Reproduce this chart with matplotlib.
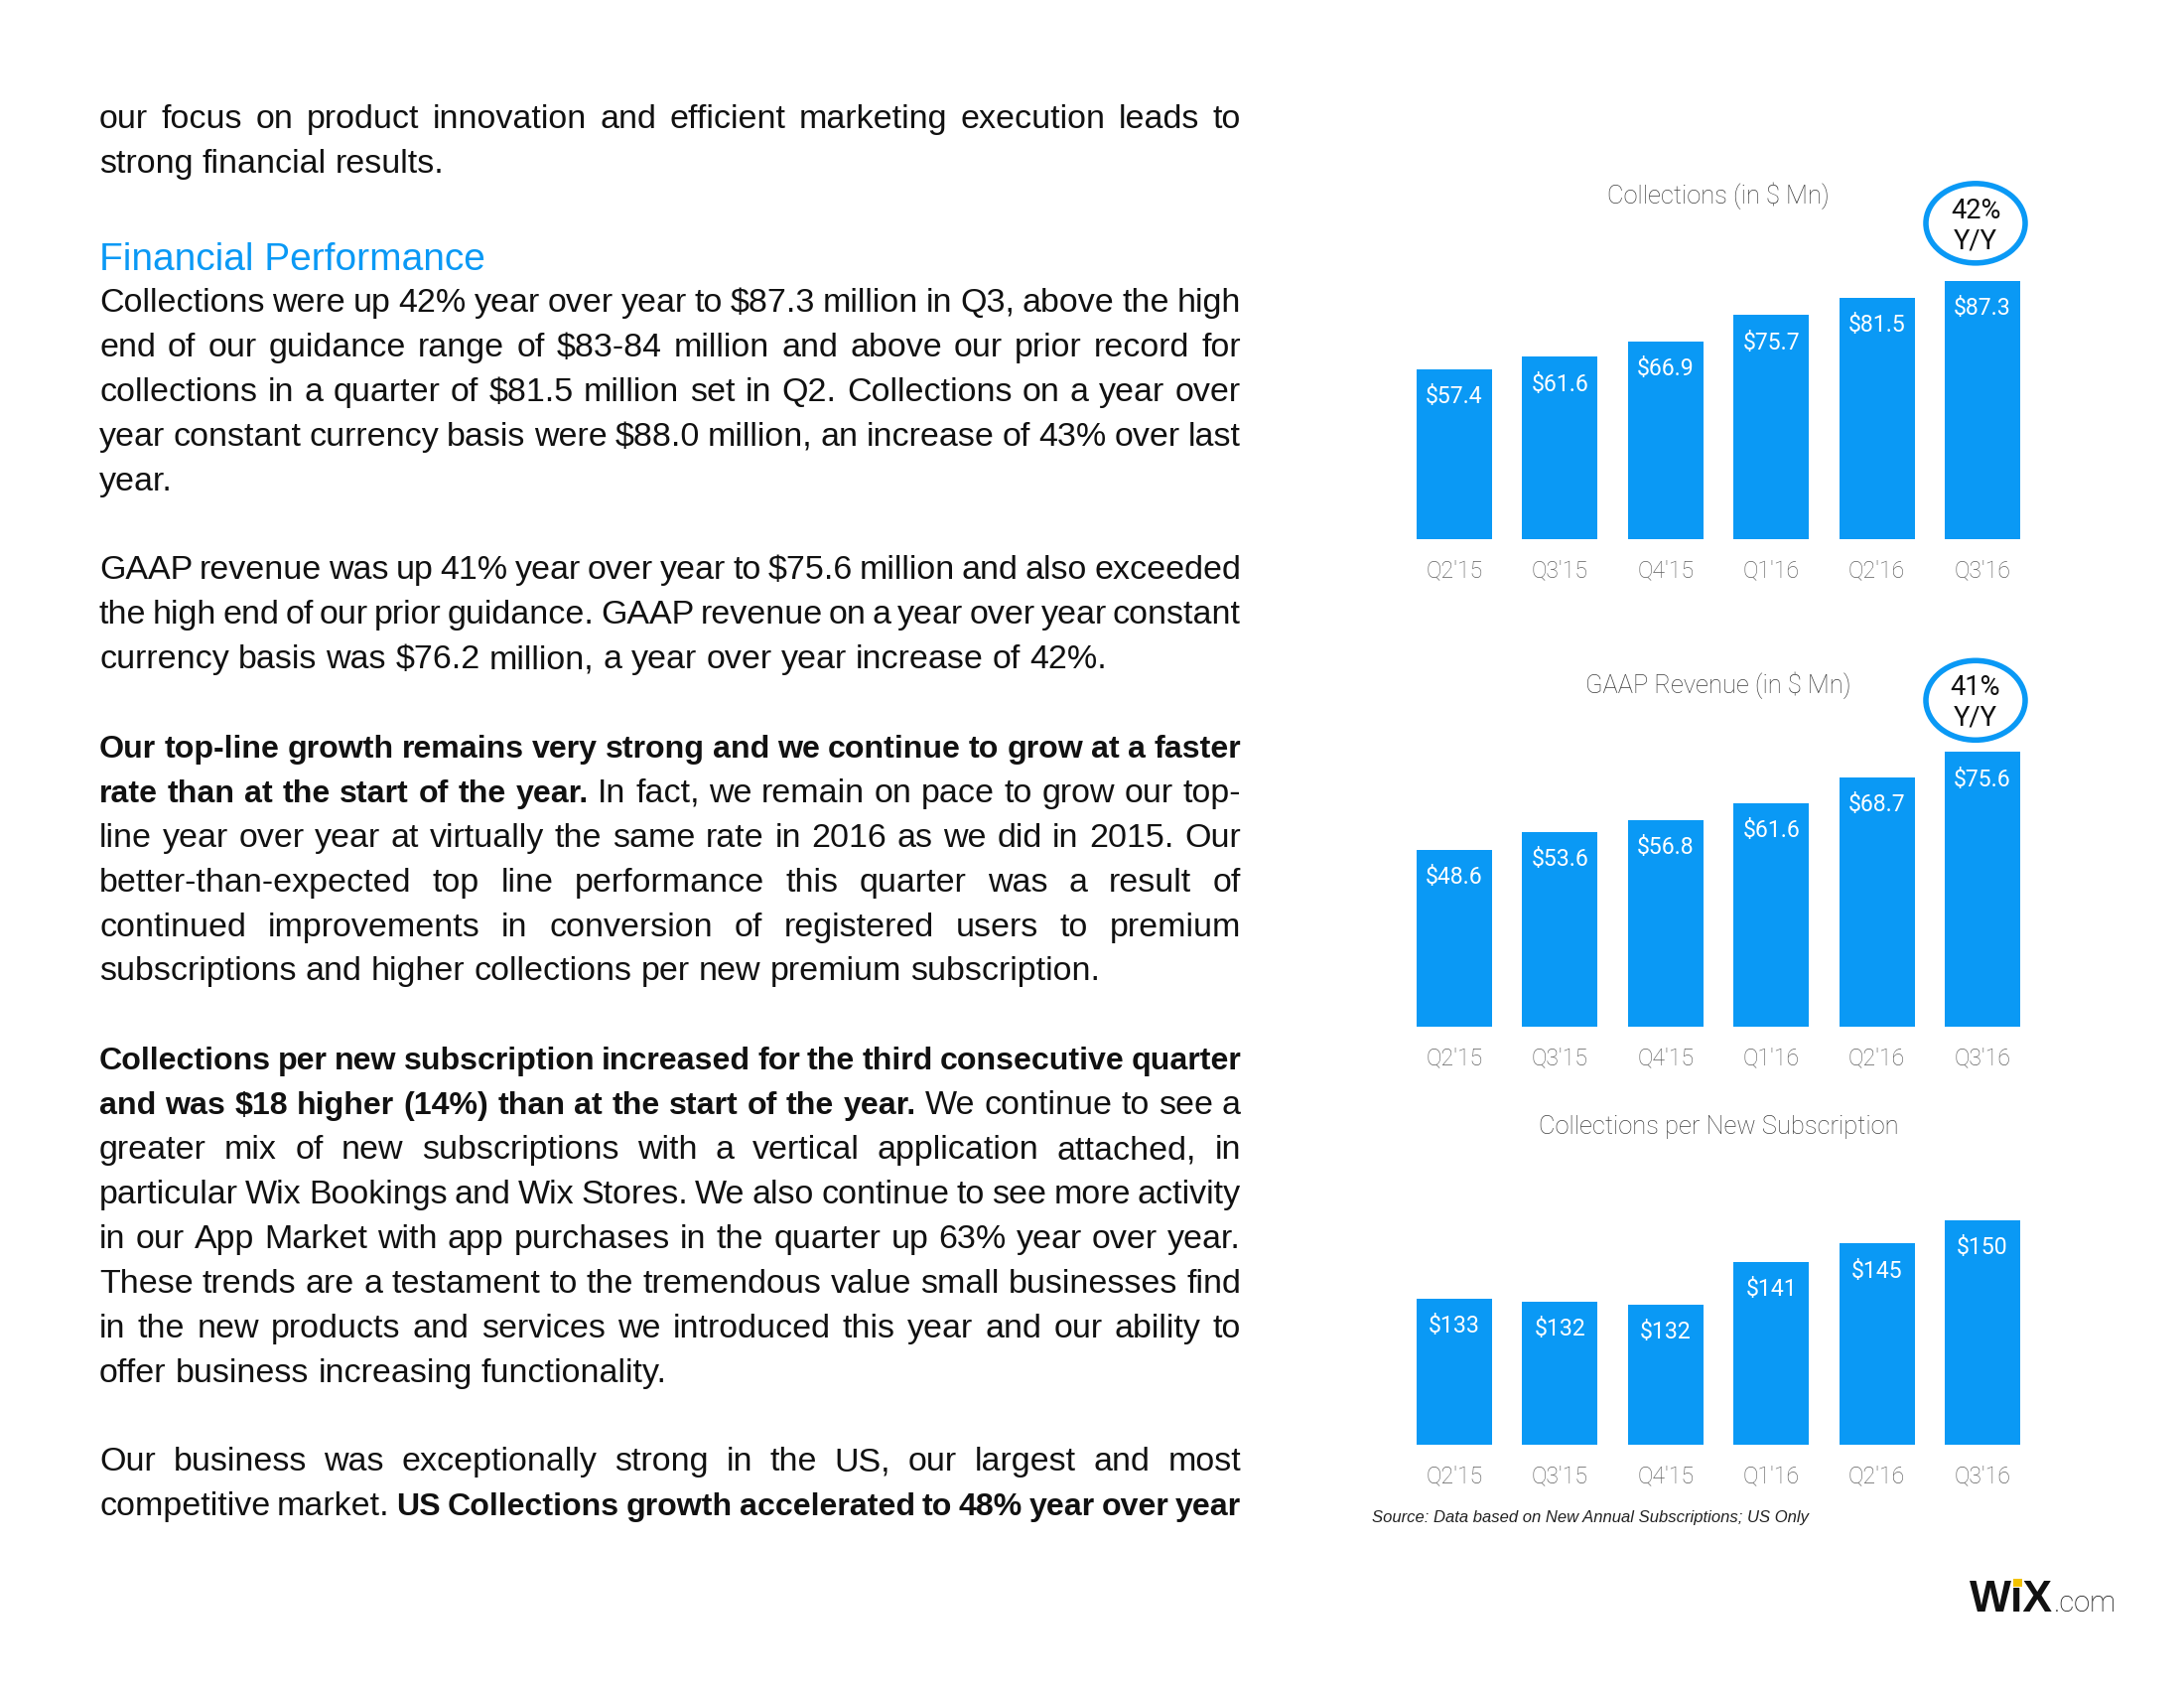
import re
import matplotlib
matplotlib.use("Agg")
import matplotlib.pyplot as plt
from matplotlib.patches import Ellipse, Rectangle

# page size in pixels
W, H, DPI = 2200, 1700, 200
BLUE = '#0A99F5'
GRAY = '#5e5e5e'
BODY_FONT = 'Liberation Sans'
CHART_FONT = 'Roboto'

# chart data
quarters = ["Q2'15", "Q3'15", "Q4'15", "Q1'16", "Q2'16", "Q3'16"]
collections = [57.4, 61.6, 66.9, 75.7, 81.5, 87.3]
gaap_revenue = [48.6, 53.6, 56.8, 61.6, 68.7, 75.6]
per_subscription = [133, 132.4, 131.8, 141, 145, 150]
collections_yoy = '42%'
revenue_yoy = '41%'

# body text, one entry per printed line; **...** marks bold runs
intro = [
    "our focus on product innovation and efficient marketing execution leads to",
    "strong financial results.",
]
heading = "Financial Performance"
paragraphs = [
    [
        "Collections were up 42% year over year to $87.3 million in Q3, above the high",
        "end of our guidance range of $83-84 million and above our prior record for",
        "collections in a quarter of $81.5 million set in Q2. Collections on a year over",
        "year constant currency basis were $88.0 million, an increase of 43% over last",
        "year.",
    ],
    [
        "GAAP revenue was up 41% year over year to $75.6 million and also exceeded",
        "the high end of our prior guidance. GAAP revenue on a year over year constant",
        "currency basis was $76.2 million, a year over year increase of 42%.",
    ],
    [
        "**Our top-line growth remains very strong and we continue to grow at a faster**",
        "**rate than at the start of the year.** In fact, we remain on pace to grow our top-",
        "line year over year at virtually the same rate in 2016 as we did in 2015. Our",
        "better-than-expected top line performance this quarter was a result of",
        "continued improvements in conversion of registered users to premium",
        "subscriptions and higher collections per new premium subscription.",
    ],
    [
        "**Collections per new subscription increased for the third consecutive quarter**",
        "**and was $18 higher (14%) than at the start of the year.** We continue to see a",
        "greater mix of new subscriptions with a vertical application attached, in",
        "particular Wix Bookings and Wix Stores. We also continue to see more activity",
        "in our App Market with app purchases in the quarter up 63% year over year.",
        "These trends are a testament to the tremendous value small businesses find",
        "in the new products and services we introduced this year and our ability to",
        "offer business increasing functionality.",
    ],
    [
        "Our business was exceptionally strong in the US, our largest and most",
        "competitive market. **US Collections growth accelerated to 48% year over year**",
    ],
]

fig = plt.figure(figsize=(W / DPI, H / DPI), dpi=DPI, facecolor='white')
renderer = fig.canvas.get_renderer()


def fx(x):
    return x / W


def fy(y):
    return 1 - y / H


def parse(line):
    words, bold = [], False
    for part in re.split(r'(\*\*)', line):
        if part == '**':
            bold = not bold
            continue
        words += [(w, bold) for w in part.split()]
    return words


def word_width(word, bold, size, family=BODY_FONT):
    t = fig.text(0, 0, word, fontsize=size, family=family,
                 fontweight='bold' if bold else 'normal')
    w = t.get_window_extent(renderer).width
    t.remove()
    return w


# --- justified body text ---
TEXT_L, TEXT_R = 100, 1250
PITCH = 44.9
SPACE = 0.27  # natural word gap, in em
blocks = [(intro, False)] + [(p, False) for p in paragraphs[:-1]] + [(paragraphs[-1], True)]
all_lines = [(l, i < len(b) - 1 or last_just) for b, last_just in blocks for i, l in enumerate(b)]

# regular size: the last line of paragraph 3 is about 1007 px wide on the page
probe = parse(paragraphs[2][-1])
probe_w = sum(word_width(w, False, 10) for w, _ in probe) + SPACE * 10 * DPI / 72 * (len(probe) - 1)
size = 10 * 1007 / probe_w
em = size * DPI / 72

# bold size: as large as the regular one, but every justified line must still fit
bold_size = size
for line, just in all_lines:
    words = parse(line)
    if not just or not any(b for _, b in words):
        continue
    reg = sum(word_width(w, False, size) for w, b in words if not b)
    bld1 = sum(word_width(w, True, 1.0 * 10) for w, b in words if b) / 10
    room = TEXT_R - TEXT_L - reg - 0.2 * em * (len(words) - 1)
    bold_size = min(bold_size, room / bld1)


def draw_line(line, y, justify):
    words = parse(line)
    widths = [word_width(w, b, bold_size if b else size) for w, b in words]
    gap = (TEXT_R - TEXT_L - sum(widths)) / (len(words) - 1) if justify and len(words) > 1 else SPACE * em
    x = TEXT_L
    for (w, b), wd in zip(words, widths):
        fig.text(fx(x), fy(y), w, fontsize=bold_size if b else size, family=BODY_FONT,
                 color='#111111', fontweight='bold' if b else 'normal', va='baseline', ha='left')
        x += wd + gap


y = 129
for i, line in enumerate(intro):
    draw_line(line, y, i < len(intro) - 1)
    y += PITCH

fig.text(fx(TEXT_L), fy(272), heading, fontsize=14, family=BODY_FONT, color=BLUE, va='baseline')

y = 314
for k, para in enumerate(paragraphs):
    last_just = k == len(paragraphs) - 1
    for i, line in enumerate(para):
        draw_line(line, y, i < len(para) - 1 or last_just)
        y += PITCH
    y += PITCH

# --- bar charts ---
AX_L, AX_W = 1411.8, 638.4


def panel(baseline, height, values, ylim, labels, title, title_y, tick_y_pad=7.3):
    ax = fig.add_axes([fx(AX_L), fy(baseline), AX_W / W, height / H])
    x = range(len(quarters))
    ax.bar(x, values, width=0.715, color=BLUE)
    ax.set_xlim(-0.5, len(quarters) - 0.5)
    ax.set_ylim(*ylim)
    ax.set_xticks(list(x), quarters, family=CHART_FONT, fontweight='light')
    ax.set_yticks([])
    ax.tick_params(axis='x', length=0, pad=tick_y_pad, labelsize=8.3, labelcolor=GRAY)
    for s in ax.spines.values():
        s.set_visible(False)
    ax.patch.set_alpha(0)
    for i, (v, lab) in enumerate(zip(values, labels)):
        ax.annotate(lab, (i, v), xytext=(0, -10), textcoords='offset points',
                    ha='center', va='center', color='white', fontsize=8.3, family=CHART_FONT)
    fig.text(fx(AX_L + AX_W / 2), fy(title_y), title, ha='center', va='center',
             fontsize=9.2, color='#3f3f3f', family=CHART_FONT, fontweight='light')
    return ax


def badge(ax, i, v, pct, dy):
    px, py = ax.transData.transform((i, v))
    cx, cy = px - 7, py + dy
    fig.add_artist(Ellipse((cx / W, cy / H), 100 / W, 80 / H, transform=fig.transFigure,
                           fill=False, ec=BLUE, lw=2.0))
    fig.text(cx / W, (cy + 12.5) / H, pct, ha='center', va='center', fontsize=9.8,
             color='#111111', family=CHART_FONT)
    fig.text(cx / W, (cy - 18) / H, 'Y/Y', ha='center', va='center', fontsize=9.8,
             color='#111111', family=CHART_FONT)


ax1 = panel(543, 2.98 * 100, collections, (0, 100),
            [f'${v:.1f}' for v in collections], 'Collections (in $ Mn)', 197)
badge(ax1, 5, collections[-1], collections_yoy, 58)

ax2 = panel(1034, 3.66 * 90, gaap_revenue, (0, 90),
            [f'${v:.1f}' for v in gaap_revenue], 'GAAP Revenue (in $ Mn)', 690)
badge(ax2, 5, gaap_revenue[-1], revenue_yoy, 52)

ax3 = panel(1455, 4.65 * (160 - 101.4), per_subscription, (101.4, 160),
            [f'${v:.0f}' for v in per_subscription], 'Collections per New Subscription', 1135)

fig.text(fx(1382), fy(1529), 'Source: Data based on New Annual Subscriptions; US Only',
         fontsize=6.0, style='italic', color='#222222', family=BODY_FONT, va='center')

# --- wix.com logo ---
logo_x, logo_base, logo_size = 1984, 1623, 16
fig.text(fx(logo_x), fy(logo_base), 'W\u0131X', fontsize=logo_size, fontweight='bold',
         family=BODY_FONT, color='#111111', va='baseline')
w_w = word_width('W', True, logo_size)
w_i = word_width('\u0131', True, logo_size)
dot_x = logo_x + w_w + w_i / 2
fig.add_artist(Rectangle((fx(dot_x - 4.5), fy(logo_base - 25)), 9 / W, 8 / H,
                         transform=fig.transFigure, color='#F2C200', lw=0))
x_end = logo_x + word_width('W\u0131X', True, logo_size)
fig.text(fx(x_end + 1), fy(logo_base), '.com', fontsize=10.5, family=CHART_FONT,
         fontweight='light', color='#111111', va='baseline')

fig.savefig('out.png', dpi=DPI, facecolor='white')
